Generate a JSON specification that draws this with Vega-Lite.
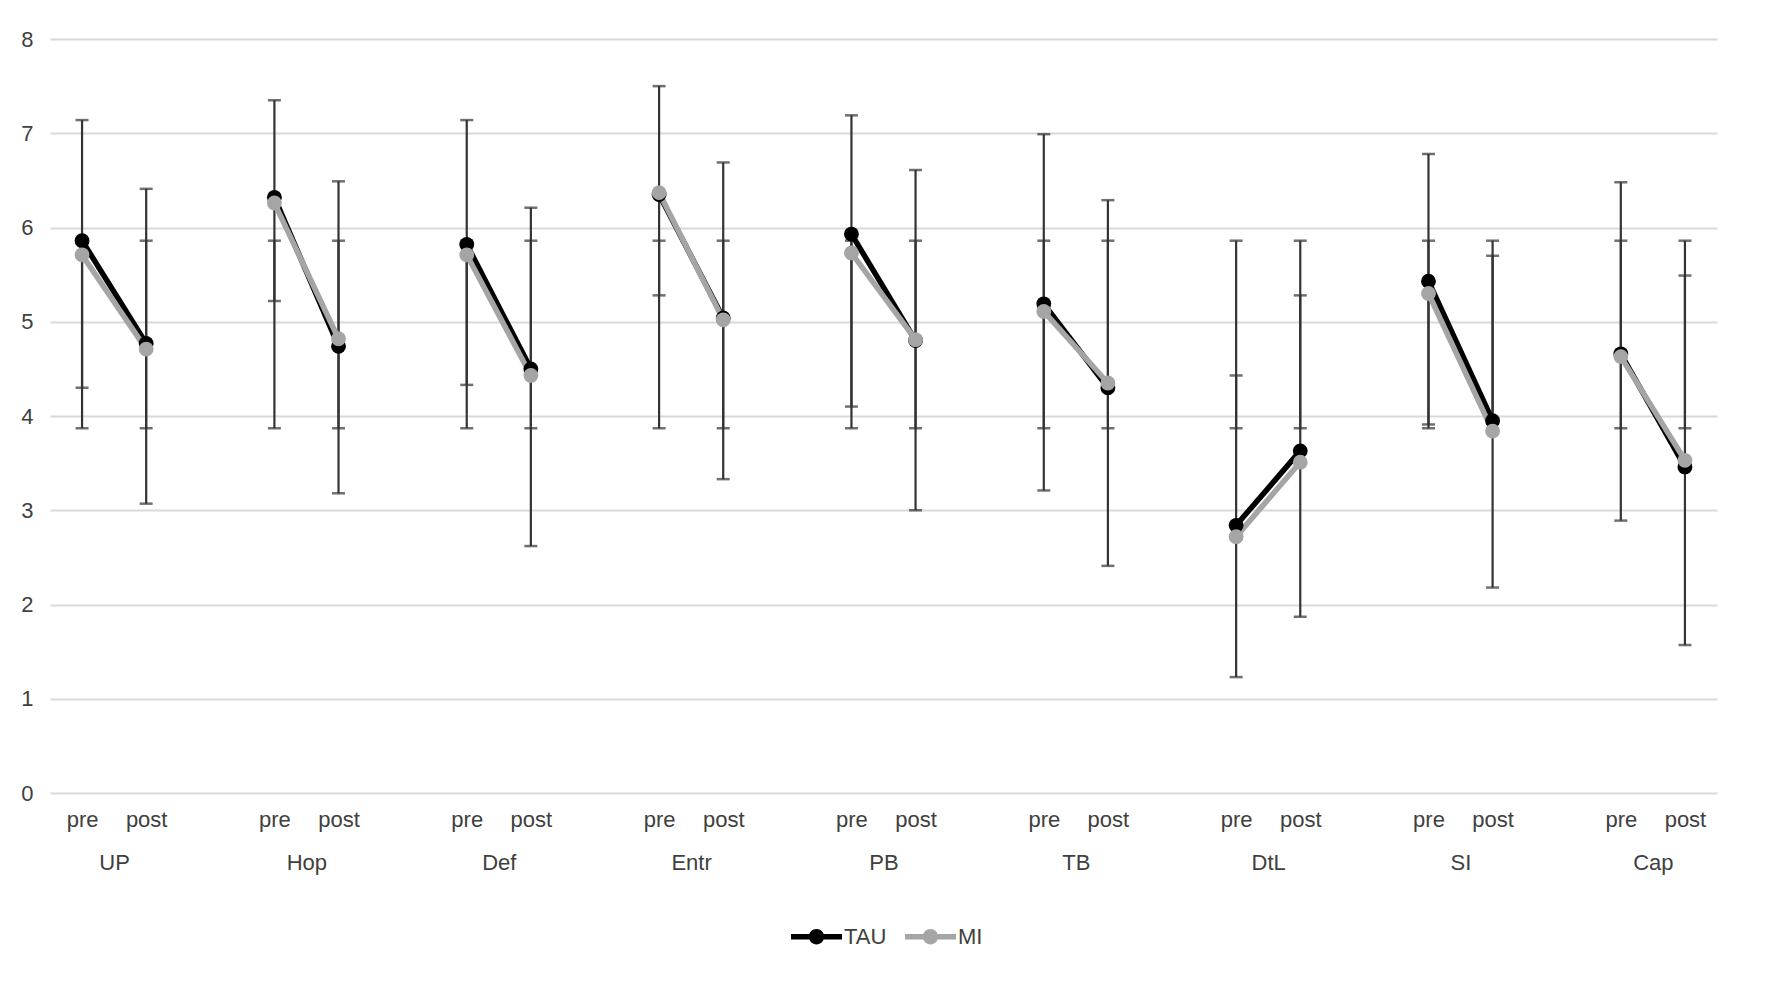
{
  "$schema": "https://vega.github.io/schema/vega-lite/v6.json",
  "width": 1667,
  "height": 754,
  "autosize": {"type": "none"},
  "padding": {"left": 50, "top": 39, "right": 55, "bottom": 191},
  "background": "#ffffff",
  "config": {
    "font": "Liberation Sans",
    "view": {"stroke": null},
    "axisY": {"grid": true, "gridColor": "#d9d9d9", "gridWidth": 2, "domain": false, "ticks": false, "labelFontSize": 22, "labelColor": "#404040", "labelPadding": 17, "title": null},
    "axisX": {"grid": false, "domain": false, "ticks": false, "labelFontSize": 22, "labelColor": "#404040", "labelAngle": 0, "title": null}
  },
  "datasets": {
    "means": [
      {"cat": "UP|pre", "group": "UP", "series": "TAU", "value": 5.86},
      {"cat": "UP|post", "group": "UP", "series": "TAU", "value": 4.77},
      {"cat": "Hop|pre", "group": "Hop", "series": "TAU", "value": 6.32},
      {"cat": "Hop|post", "group": "Hop", "series": "TAU", "value": 4.74},
      {"cat": "Def|pre", "group": "Def", "series": "TAU", "value": 5.82},
      {"cat": "Def|post", "group": "Def", "series": "TAU", "value": 4.50},
      {"cat": "Entr|pre", "group": "Entr", "series": "TAU", "value": 6.35},
      {"cat": "Entr|post", "group": "Entr", "series": "TAU", "value": 5.04},
      {"cat": "PB|pre", "group": "PB", "series": "TAU", "value": 5.93},
      {"cat": "PB|post", "group": "PB", "series": "TAU", "value": 4.80},
      {"cat": "TB|pre", "group": "TB", "series": "TAU", "value": 5.19},
      {"cat": "TB|post", "group": "TB", "series": "TAU", "value": 4.30},
      {"cat": "DtL|pre", "group": "DtL", "series": "TAU", "value": 2.84},
      {"cat": "DtL|post", "group": "DtL", "series": "TAU", "value": 3.63},
      {"cat": "SI|pre", "group": "SI", "series": "TAU", "value": 5.43},
      {"cat": "SI|post", "group": "SI", "series": "TAU", "value": 3.95},
      {"cat": "Cap|pre", "group": "Cap", "series": "TAU", "value": 4.66},
      {"cat": "Cap|post", "group": "Cap", "series": "TAU", "value": 3.46},
      {"cat": "UP|pre", "group": "UP", "series": "MI", "value": 5.71},
      {"cat": "UP|post", "group": "UP", "series": "MI", "value": 4.71},
      {"cat": "Hop|pre", "group": "Hop", "series": "MI", "value": 6.26},
      {"cat": "Hop|post", "group": "Hop", "series": "MI", "value": 4.82},
      {"cat": "Def|pre", "group": "Def", "series": "MI", "value": 5.71},
      {"cat": "Def|post", "group": "Def", "series": "MI", "value": 4.43},
      {"cat": "Entr|pre", "group": "Entr", "series": "MI", "value": 6.37},
      {"cat": "Entr|post", "group": "Entr", "series": "MI", "value": 5.02},
      {"cat": "PB|pre", "group": "PB", "series": "MI", "value": 5.73},
      {"cat": "PB|post", "group": "PB", "series": "MI", "value": 4.81},
      {"cat": "TB|pre", "group": "TB", "series": "MI", "value": 5.11},
      {"cat": "TB|post", "group": "TB", "series": "MI", "value": 4.35},
      {"cat": "DtL|pre", "group": "DtL", "series": "MI", "value": 2.72},
      {"cat": "DtL|post", "group": "DtL", "series": "MI", "value": 3.51},
      {"cat": "SI|pre", "group": "SI", "series": "MI", "value": 5.30},
      {"cat": "SI|post", "group": "SI", "series": "MI", "value": 3.84},
      {"cat": "Cap|pre", "group": "Cap", "series": "MI", "value": 4.63},
      {"cat": "Cap|post", "group": "Cap", "series": "MI", "value": 3.53}
    ],
    "bars": [
      {"cat": "UP|pre", "lo": 4.30, "hi": 7.14},
      {"cat": "UP|post", "lo": 3.07, "hi": 6.41},
      {"cat": "Hop|pre", "lo": 5.22, "hi": 7.35},
      {"cat": "Hop|post", "lo": 3.18, "hi": 6.49},
      {"cat": "Def|pre", "lo": 4.33, "hi": 7.14},
      {"cat": "Def|post", "lo": 2.62, "hi": 6.21},
      {"cat": "Entr|pre", "lo": 5.28, "hi": 7.50},
      {"cat": "Entr|post", "lo": 3.33, "hi": 6.69},
      {"cat": "PB|pre", "lo": 4.10, "hi": 7.19},
      {"cat": "PB|post", "lo": 3.00, "hi": 6.61},
      {"cat": "TB|pre", "lo": 3.21, "hi": 6.99},
      {"cat": "TB|post", "lo": 2.41, "hi": 6.29},
      {"cat": "DtL|pre", "lo": 1.23, "hi": 4.43},
      {"cat": "DtL|post", "lo": 1.87, "hi": 5.28},
      {"cat": "SI|pre", "lo": 3.91, "hi": 6.78},
      {"cat": "SI|post", "lo": 2.18, "hi": 5.70},
      {"cat": "Cap|pre", "lo": 2.89, "hi": 6.48},
      {"cat": "Cap|post", "lo": 1.57, "hi": 5.49},
      {"cat": "UP|pre", "lo": 3.87, "hi": 5.86},
      {"cat": "UP|post", "lo": 3.87, "hi": 5.86},
      {"cat": "Hop|pre", "lo": 3.87, "hi": 5.86},
      {"cat": "Hop|post", "lo": 3.87, "hi": 5.86},
      {"cat": "Def|pre", "lo": 3.87, "hi": 5.86},
      {"cat": "Def|post", "lo": 3.87, "hi": 5.86},
      {"cat": "Entr|pre", "lo": 3.87, "hi": 5.86},
      {"cat": "Entr|post", "lo": 3.87, "hi": 5.86},
      {"cat": "PB|pre", "lo": 3.87, "hi": 5.86},
      {"cat": "PB|post", "lo": 3.87, "hi": 5.86},
      {"cat": "TB|pre", "lo": 3.87, "hi": 5.86},
      {"cat": "TB|post", "lo": 3.87, "hi": 5.86},
      {"cat": "DtL|pre", "lo": 3.87, "hi": 5.86},
      {"cat": "DtL|post", "lo": 3.87, "hi": 5.86},
      {"cat": "SI|pre", "lo": 3.87, "hi": 5.86},
      {"cat": "SI|post", "lo": 3.87, "hi": 5.86},
      {"cat": "Cap|pre", "lo": 3.87, "hi": 5.86},
      {"cat": "Cap|post", "lo": 3.87, "hi": 5.86}
    ]
  },
  "resolve": {"axis": {"x": "independent"}},
  "layer": [
    {
      "data": {"name": "bars"},
      "mark": {"type": "errorbar", "ticks": {"size": 13, "thickness": 2.5, "color": "#333333"}, "rule": {"color": "#333333", "strokeWidth": 2.2}},
      "encoding": {
        "x": {"field": "cat", "type": "nominal", "sort": null,
              "scale": {"type": "point", "padding": 0.5, "domain": ["UP|pre","UP|post","g1","Hop|pre","Hop|post","g2","Def|pre","Def|post","g3","Entr|pre","Entr|post","g4","PB|pre","PB|post","g5","TB|pre","TB|post","g6","DtL|pre","DtL|post","g7","SI|pre","SI|post","g8","Cap|pre","Cap|post"]},
              "axis": {"orient": "bottom", "labelExpr": "indexof(datum.value, '|') > 0 ? split(datum.value, '|')[1] : ''", "labelPadding": 16}},
        "y": {"field": "lo", "type": "quantitative", "title": null, "scale": {"domain": [0, 8], "nice": false}, "axis": {"values": [0,1,2,3,4,5,6,7,8], "format": "d"}},
        "y2": {"field": "hi"}
      }
    },
    {
      "data": {"name": "means"},
      "mark": {"type": "line", "strokeWidth": 5.5},
      "encoding": {
        "x": {"field": "cat", "type": "nominal", "sort": null,
              "axis": {"orient": "bottom", "offset": 41, "labelExpr": "indexof(datum.value, '|pre') > 0 ? split(datum.value, '|')[0] : ''", "labelOffset": 32, "labelPadding": 18}},
        "y": {"field": "value", "type": "quantitative", "title": null},
        "color": {"field": "series", "type": "nominal", "scale": {"domain": ["TAU", "MI"], "range": ["#000000", "#a5a5a5"]},
                  "legend": {"orient": "none", "legendX": 741, "legendY": 872, "direction": "horizontal", "title": null,
                             "symbolType": "M-1,-0.11H1V0.11H-1Z M0.3,0 A0.3,0.3 0 1 1 -0.3,0 A0.3,0.3 0 1 1 0.3,0 Z",
                             "symbolSize": 2600, "symbolStrokeWidth": 0, "symbolOpacity": 1,
                             "labelFontSize": 22, "labelColor": "#404040", "labelOffset": 2, "columnPadding": 18}},
        "detail": {"field": "group"}
      }
    },
    {
      "data": {"name": "means"},
      "mark": {"type": "point", "filled": true, "opacity": 1, "size": 220},
      "encoding": {
        "x": {"field": "cat", "type": "nominal", "sort": null, "axis": null},
        "y": {"field": "value", "type": "quantitative", "title": null},
        "color": {"field": "series", "type": "nominal",
                  "legend": {"orient": "none", "legendX": 741, "legendY": 872, "direction": "horizontal", "title": null,
                             "symbolType": "M-1,-0.11H1V0.11H-1Z M0.3,0 A0.3,0.3 0 1 1 -0.3,0 A0.3,0.3 0 1 1 0.3,0 Z",
                             "symbolSize": 2600, "symbolStrokeWidth": 0, "symbolOpacity": 1,
                             "labelFontSize": 22, "labelColor": "#404040", "labelOffset": 2, "columnPadding": 18}}
      }
    }
  ]
}
